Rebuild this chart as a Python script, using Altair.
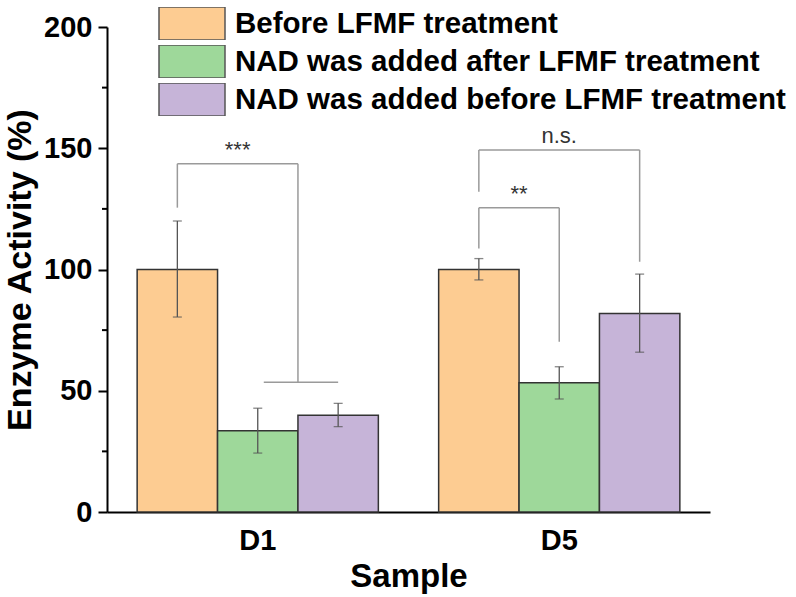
import altair as alt
import pandas as pd

samples = ["D1", "D5"]
groups = ["Before LFMF treatment", "NAD was added after LFMF treatment", "NAD was added before LFMF treatment"]
colors = ["#FDCC92", "#9ED89A", "#C6B4D8"]

# mean, low, high per sample (rows follow groups order)
mean_D1 = [100.0, 33.5, 39.9]
low_D1 = [80.4, 24.3, 35.2]
high_D1 = [120.0, 42.8, 44.8]
mean_D5 = [100.0, 53.3, 81.9]
low_D5 = [95.7, 46.6, 65.9]
high_D5 = [104.5, 59.9, 98.1]

# significance brackets: sample, left groups, right groups, top, left-leg bottom, right-leg bottom, label
br_sample = ["D1", "D5", "D5"]
br_left = [[0], [0], [0]]
br_right = [[1, 2], [1], [2]]
br_top = [143.6, 125.5, 149.3]
br_lbot = [125.5, 108.7, 132.1]
br_rbot = [53.5, 70.2, 103.2]
br_label = ["***", "**", "n.s."]

minor_ticks = [25, 75, 125, 175]

PI, PO = 0.2, 0.1
FONT = "Liberation Sans"

rows = []
for s, m, lo, hi in [("D1", mean_D1, low_D1, high_D1), ("D5", mean_D5, low_D5, high_D5)]:
    for g, mv, l, h in zip(groups, m, lo, hi):
        rows.append({"Sample": s, "Group": g, "mean": mv, "low": l, "high": h})
df = pd.DataFrame(rows)


def center(si, gi):
    return si + PO + (1 - PI) * (gi + 0.5) / len(groups)


segs, labs = [], []
for s, L, R, top, lb, rb, lab in zip(br_sample, br_left, br_right, br_top, br_lbot, br_rbot, br_label):
    si = samples.index(s)
    xl = sum(center(si, g) for g in L) / len(L)
    xr = sum(center(si, g) for g in R) / len(R)
    segs.append({"x": xl, "x2": xl, "y": lb, "y2": top})
    segs.append({"x": xl, "x2": xr, "y": top, "y2": top})
    segs.append({"x": xr, "x2": xr, "y": top, "y2": rb})
    if len(R) > 1:
        segs.append({"x": center(si, R[0]) + 0.02, "x2": center(si, R[-1]), "y": rb, "y2": rb})
    labs.append({"x": (xl + xr) / 2, "y": top, "label": lab})
seg_df = pd.DataFrame(segs)
lab_df = pd.DataFrame(labs)

yscale = alt.Scale(domain=[0, 200], nice=False, zero=True)
xband = alt.X("Sample:N", sort=samples,
              scale=alt.Scale(paddingInner=PI, paddingOuter=PO),
              axis=alt.Axis(title="Sample", labelAngle=0, ticks=False, domainColor="black",
                            domainWidth=2, labelFont=FONT, labelFontWeight="bold", labelFontSize=29,
                            labelColor="black", labelPadding=14, titleFont=FONT, titleFontWeight="bold",
                            titleFontSize=33, titleColor="black", titlePadding=5))
xoff = alt.XOffset("Group:N", sort=groups, scale=alt.Scale(paddingInner=0, paddingOuter=0))

bars = alt.Chart(df).mark_bar(stroke="#333333", strokeWidth=1.5).encode(
    x=xband, xOffset=xoff,
    y=alt.Y("mean:Q", scale=yscale,
            axis=alt.Axis(title="Enzyme Activity (%)", values=[0, 50, 100, 150, 200], grid=False,
                          tickSize=9, tickWidth=2, tickColor="black", domainColor="black", domainWidth=2,
                          labelFont=FONT, labelFontWeight="bold", labelFontSize=29, labelColor="black",
                          labelPadding=6, titleFont=FONT, titleFontWeight="bold", titleFontSize=34,
                          titleColor="black", titlePadding=6)),
    color=alt.Color("Group:N", sort=groups, scale=alt.Scale(domain=groups, range=colors),
                    legend=alt.Legend(title=None, orient="none", legendX=51, legendY=-20, padding=0,
                                      symbolType="M-1,-0.5H1V0.5H-1Z", symbolSize=4356, clipHeight=33,
                                      rowPadding=5, labelOffset=9, labelLimit=700,
                                      labelFont=FONT, labelFontWeight="bold", labelFontSize=29.5,
                                      labelColor="black", symbolStrokeColor="#555555",
                                      symbolStrokeWidth=1.5, symbolOpacity=1)),
)

err = alt.Chart(df).mark_rule(color="#555555", strokeWidth=1.3).encode(
    x=alt.X("Sample:N", sort=samples), xOffset=xoff, y=alt.Y("low:Q", scale=yscale), y2="high:Q")
cap_lo = alt.Chart(df).mark_tick(color="#555555", thickness=1.3, size=9).encode(
    x=alt.X("Sample:N", sort=samples), xOffset=xoff, y=alt.Y("low:Q", scale=yscale))
cap_hi = alt.Chart(df).mark_tick(color="#555555", thickness=1.3, size=9).encode(
    x=alt.X("Sample:N", sort=samples), xOffset=xoff, y=alt.Y("high:Q", scale=yscale))

minor = alt.Chart(pd.DataFrame({"v": minor_ticks})).mark_rule(color="black", strokeWidth=2).encode(
    y=alt.Y("v:Q", scale=yscale), x=alt.value(-5), x2=alt.value(0))

base = alt.layer(bars, err, cap_lo, cap_hi, minor)

xlin = alt.Scale(domain=[0, len(samples)], nice=False, zero=False)
brk = alt.Chart(seg_df).mark_rule(color="#9a9a9a", strokeWidth=1.5).encode(
    x=alt.X("x:Q", scale=xlin, axis=None), x2="x2:Q",
    y=alt.Y("y:Q", scale=yscale), y2="y2:Q")
txt = alt.Chart(lab_df).mark_text(font=FONT, fontSize=22, color="#333333", baseline="alphabetic",
                                  dy=-6.5).encode(
    x=alt.X("x:Q", scale=xlin, axis=None), y=alt.Y("y:Q", scale=yscale), text="label:N")
ann = alt.layer(brk, txt)

chart = alt.layer(base, ann).resolve_scale(x="independent").properties(
    width=603, height=485,
    padding={"left": 107, "top": 27, "right": 86, "bottom": 85},
    autosize=alt.AutoSizeParams(type="none"),
    background="white",
).configure_view(strokeWidth=0, stroke="transparent")

chart.save("out.html", embed_options={"renderer": "svg", "actions": False})
